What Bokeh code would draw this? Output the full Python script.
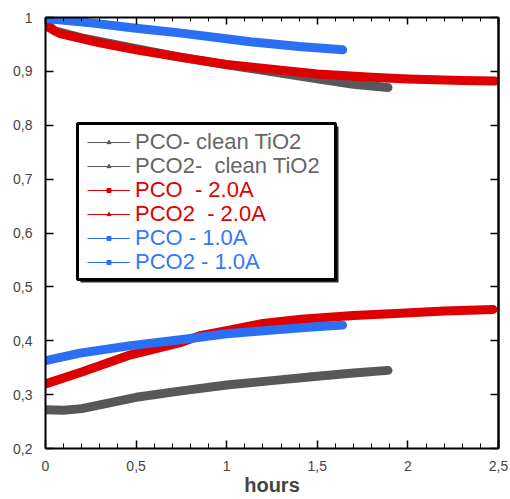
from bokeh.plotting import figure
from bokeh.models import (Legend, LegendItem, LinearAxis, SingleIntervalTicker,
                          FixedTicker, CustomJSTickFormatter, BoxAnnotation, Range1d)
from bokeh.embed import file_html
from bokeh.resources import INLINE

# ---- data ----
x_clean_pco = [0.0, 0.05, 0.2, 0.5, 0.75, 1.0, 1.2, 1.5, 1.7, 1.89]
y_clean_pco = [0.99, 0.975, 0.962, 0.942, 0.926, 0.912, 0.902, 0.886, 0.876, 0.870]

x_clean_pco2 = [0.0, 0.1, 0.2, 0.3, 0.5, 0.75, 1.0, 1.25, 1.5, 1.7, 1.89]
y_clean_pco2 = [0.272, 0.271, 0.274, 0.281, 0.295, 0.307, 0.318, 0.326, 0.334, 0.340, 0.345]

x_20_pco = [0.0, 0.08, 0.3, 0.5, 0.75, 1.0, 1.3, 1.5, 1.8, 2.0, 2.3, 2.48]
y_20_pco = [0.985, 0.970, 0.953, 0.940, 0.926, 0.913, 0.902, 0.895, 0.889, 0.886, 0.883, 0.882]

x_20_pco2 = [0.0, 0.2, 0.47, 0.75, 0.86, 1.02, 1.2, 1.41, 1.7, 1.96, 2.2, 2.47]
y_20_pco2 = [0.320, 0.342, 0.374, 0.397, 0.410, 0.420, 0.432, 0.440, 0.447, 0.451, 0.455, 0.458]

x_10_pco = [0.0, 0.25, 0.5, 0.75, 1.13, 1.4, 1.64]
y_10_pco = [0.998, 0.990, 0.980, 0.971, 0.955, 0.946, 0.940]

x_10_pco2 = [0.0, 0.19, 0.47, 0.745, 1.0, 1.22, 1.45, 1.64]
y_10_pco2 = [0.363, 0.377, 0.391, 0.402, 0.413, 0.419, 0.425, 0.429]

labels = ["PCO- clean TiO2", "PCO2-  clean TiO2", "PCO  - 2.0A",
          "PCO2  - 2.0A", "PCO - 1.0A", "PCO2 - 1.0A"]

y_ticks_major = [0.2, 0.3, 0.4, 0.5, 0.6, 0.7, 0.8, 0.9, 1.0]

GRAY = "#58585a"
RED = "#de0000"
BLUE = "#2b6ff5"
GRAY_TXT = "#666666"
RED_TXT = "#e00000"
BLUE_TXT = "#3377ff"
FONT = "Liberation Sans"

p = figure(width=510, height=499, output_backend="svg", toolbar_location=None,
           x_range=Range1d(0, 2.5), y_range=Range1d(0.2, 1.0),
           min_border_left=45, min_border_top=17, min_border_right=12,
           min_border_bottom=51)
p.grid.visible = False
p.outline_line_color = None
p.background_fill_color = "white"
p.border_fill_color = "white"

fmt = CustomJSTickFormatter(code="return (Math.round(tick*10)/10).toString().replace('.', ',');")
blank = CustomJSTickFormatter(code="return '';")

# bottom axis
xa = p.xaxis[0]
xa.ticker = SingleIntervalTicker(interval=0.5, num_minor_ticks=5)
xa.formatter = fmt
xa.axis_label = "hours"
xa.axis_label_text_font = FONT
xa.axis_label_text_font_style = "bold"
xa.axis_label_text_font_size = "20px"
xa.axis_label_standoff = 0
xa.major_label_text_font = FONT
xa.major_label_text_font_size = "14px"
xa.major_label_standoff = 12
xa.major_tick_in = 8
xa.major_tick_out = 0
xa.minor_tick_in = 5
xa.minor_tick_out = 0
xa.axis_line_width = 2
xa.major_tick_line_width = 1.5

# left axis
ya = p.yaxis[0]
ya.ticker = FixedTicker(ticks=y_ticks_major)
ya.formatter = fmt
ya.major_label_text_font = FONT
ya.major_label_text_font_size = "14px"
ya.major_label_standoff = 13
ya.major_tick_in = 8
ya.major_tick_out = 0
ya.minor_tick_line_color = None
ya.axis_line_width = 2
ya.major_tick_line_width = 1.5

# top axis (ticks only)
ta = LinearAxis(ticker=SingleIntervalTicker(interval=0.5, num_minor_ticks=5),
                formatter=blank, major_label_text_color=None,
                major_label_standoff=0,
                major_tick_in=7, major_tick_out=0, minor_tick_in=4, minor_tick_out=0,
                axis_line_width=2, major_tick_line_width=1.5)
p.add_layout(ta, "above")

# right axis (ticks only)
ra = LinearAxis(ticker=FixedTicker(ticks=y_ticks_major),
                formatter=blank, major_label_text_color=None,
                major_label_standoff=0,
                major_tick_in=8, major_tick_out=0, minor_tick_line_color=None,
                axis_line_width=2.5, major_tick_line_width=1.5)
p.add_layout(ra, "right")

# data bands
LW = 9
series = [
    (x_clean_pco, y_clean_pco, GRAY),
    (x_clean_pco2, y_clean_pco2, GRAY),
    (x_20_pco, y_20_pco, RED),
    (x_20_pco2, y_20_pco2, RED),
    (x_10_pco, y_10_pco, BLUE),
    (x_10_pco2, y_10_pco2, BLUE),
]
for xs, ys, c in series:
    p.line(xs, ys, line_color=c, line_width=LW, line_join="round", line_cap="round")

# legend box with shadow (screen units relative to frame)
shadow = BoxAnnotation(left=35, right=293, top=322, bottom=166,
                       left_units="screen", right_units="screen",
                       top_units="screen", bottom_units="screen",
                       fill_color="black", fill_alpha=0.85, line_color=None, level="overlay")
box = BoxAnnotation(left=32, right=290, top=325, bottom=169,
                    left_units="screen", right_units="screen",
                    top_units="screen", bottom_units="screen",
                    fill_color="white", fill_alpha=1.0, line_color="black",
                    line_width=3, line_alpha=1.0, level="overlay")
p.add_layout(shadow)
p.add_layout(box)

# legend entries (one legend per entry to colour each label)
leg_specs = [
    (labels[0], GRAY, GRAY_TXT, "triangle"),
    (labels[1], GRAY, GRAY_TXT, "triangle"),
    (labels[2], RED, RED_TXT, "square"),
    (labels[3], RED, RED_TXT, "triangle"),
    (labels[4], BLUE, BLUE_TXT, "square"),
    (labels[5], BLUE, BLUE_TXT, "square"),
]
nan = float("nan")
row_h = 24
gh = 10
first_center = 140  # page y of first row
for i, (lab, c, tc, mk) in enumerate(leg_specs):
    lr = p.line([nan], [nan], line_color=c, line_width=1)
    sr = p.scatter([nan], [nan], marker=mk, size=4, fill_color=c, line_color=c)
    center = first_center + i * row_h
    vy = 448 - (center + gh / 2) - 10
    leg = Legend(items=[LegendItem(label=lab, renderers=[lr, sr])],
                 location=(42, vy), padding=0, margin=0, spacing=0,
                 glyph_width=43, glyph_height=gh, label_height=gh,
                 label_standoff=5, label_text_font=FONT,
                 label_text_font_size="22px", label_text_color=tc,
                 background_fill_alpha=0, border_line_alpha=0,
                 level="overlay")
    p.add_layout(leg)

open("out.html", "w").write(file_html(p, INLINE))
